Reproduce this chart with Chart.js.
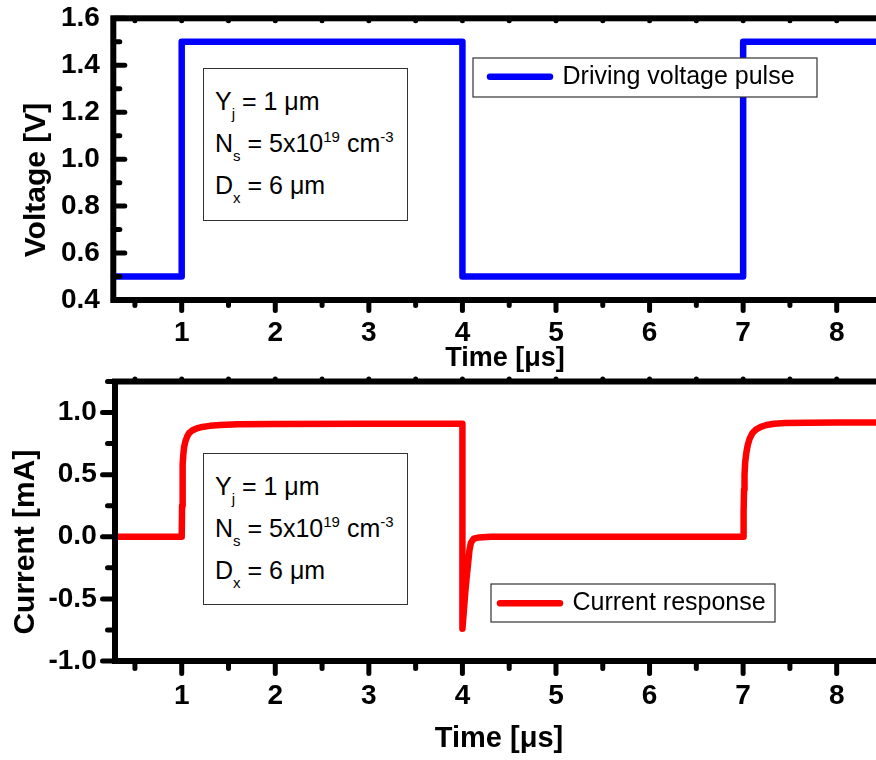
<!DOCTYPE html>
<html>
<head>
<meta charset="utf-8">
<script src="https://cdn.jsdelivr.net/npm/chart.js@4.4.1/dist/chart.umd.min.js"></script>
<style>
html, body { margin:0; padding:0; background:#fff; overflow:hidden; }
#wrap { position:relative; width:876px; height:760px; overflow:hidden; background:#fff; }
canvas { position:absolute; left:0; }
#cTop { top:0; }
#cBot { top:370px; }
.note { position:absolute; left:203px; width:205px; box-sizing:border-box; border:1px solid #333; background:#fff;
  padding:11px 0 0 11px; font-family:"Liberation Sans", Arial, sans-serif; font-size:25px; line-height:42px;
  color:#000; white-space:nowrap; z-index:2; }
.note sub, .note sup { font-size:15px; line-height:0; position:relative; vertical-align:baseline; }
.note sub { top:9px; }
.note sup { top:-10px; }
</style>
</head>
<body>
<div id="wrap">
  <canvas id="cTop" width="900" height="380"></canvas>
  <canvas id="cBot" width="900" height="390"></canvas>
  <div class="note" style="top:68px;height:153px">
    <div>Y<sub>j</sub> = 1 μm</div>
    <div>N<sub>s</sub> = 5x10<sup>19</sup> cm<sup>-3</sup></div>
    <div>D<sub>x</sub> = 6 μm</div>
  </div>
  <div class="note" style="top:453px;height:152px">
    <div>Y<sub>j</sub> = 1 μm</div>
    <div>N<sub>s</sub> = 5x10<sup>19</sup> cm<sup>-3</sup></div>
    <div>D<sub>x</sub> = 6 μm</div>
  </div>
</div>
<script>
const FONT = '"Liberation Sans", Arial, Helvetica, sans-serif';

// ---- tick values ----
const timeTicks = [1, 2, 3, 4, 5, 6, 7, 8];
const timeMinorTicks = [0.5, 1.5, 2.5, 3.5, 4.5, 5.5, 6.5, 7.5, 8.5];
const voltTicks = [0.4, 0.6, 0.8, 1.0, 1.2, 1.4, 1.6];
const voltMinorTicks = [0.5, 0.7, 0.9, 1.1, 1.3, 1.5];
const currTicks = [-1.0, -0.5, 0.0, 0.5, 1.0];
const currMinorTicks = [-0.75, -0.25, 0.25, 0.75, 1.25];

// ---- series: driving voltage pulse ----
const voltTime  = [0.2, 1.0, 1.0, 4.0, 4.0, 7.0, 7.0, 8.7];
const voltValue = [0.5, 0.5, 1.5, 1.5, 0.5, 0.5, 1.5, 1.5];

// ---- series: current response ----
const currTime = [0.2, 1.0, 1.004, 1.008, 1.012, 1.017, 1.025, 1.04, 1.06, 1.08, 1.11, 1.16, 1.22, 1.3, 1.41, 1.6, 2.0, 3.0,
  4.0, 4.0, 4.015, 4.03, 4.045, 4.06, 4.075, 4.09, 4.12, 4.18, 4.3, 5.0, 6.0,
  7.0, 7.005, 7.01, 7.015, 7.022, 7.035, 7.05, 7.07, 7.1, 7.14, 7.19, 7.25, 7.33, 7.45, 7.7, 8.0, 8.7];
const currValue = [0, 0, 0.25, 0.45, 0.58, 0.66, 0.72, 0.77, 0.81, 0.835, 0.855, 0.872, 0.884, 0.893, 0.9, 0.905, 0.908, 0.91,
  0.91, -0.74, -0.60, -0.45, -0.33, -0.22, -0.11, -0.05, -0.015, -0.005, 0, 0, 0,
  0, 0.2, 0.38, 0.5, 0.6, 0.68, 0.74, 0.79, 0.835, 0.865, 0.885, 0.9, 0.91, 0.915, 0.918, 0.92, 0.92];

const toPoints = (xs, ys) => xs.map((x, i) => ({ x: x, y: ys[i] }));

// frame + tick marks (drawn through the chart's scales)
const framePlugin = {
  id: 'frameTicks',
  afterDatasetsDraw(chart, args, o) {
    const { ctx, chartArea: a } = chart;
    const xs = chart.scales.x, ys = chart.scales.y;
    ctx.save();
    ctx.strokeStyle = '#000';
    ctx.lineWidth = 6;
    ctx.strokeRect(a.left, a.top, a.right - a.left, a.bottom - a.top);
    ctx.lineWidth = 5;
    ctx.lineCap = 'round';
    const r = 2.5;
    const seg = (x1, y1, x2, y2) => { ctx.beginPath(); ctx.moveTo(x1, y1); ctx.lineTo(x2, y2); ctx.stroke(); };
    o.yMajor.forEach(v => { const p = ys.getPixelForValue(v); seg(a.left, p, a.left + o.leftDir * (o.leftMajor - r), p); });
    o.yMinor.forEach(v => { const p = ys.getPixelForValue(v); seg(a.left, p, a.left + o.leftDir * (o.leftMinor - r), p); });
    o.xMajor.forEach(v => {
      const p = xs.getPixelForValue(v); if (p > a.right) return;
      seg(p, a.bottom, p, a.bottom + o.bottomDir * (o.bottomMajor - r));
      seg(p, a.top, p, a.top + o.topDir * (o.topLen - r));
    });
    o.xMinor.forEach(v => {
      const p = xs.getPixelForValue(v); if (p > a.right) return;
      seg(p, a.bottom, p, a.bottom + o.bottomDir * (o.bottomMinor - r));
      seg(p, a.top, p, a.top + o.topDir * (o.topLen - r));
    });
    ctx.restore();
  }
};

// legend placed inside a framed white box
const legendBoxPlugin = {
  id: 'legendBox',
  afterUpdate(chart, args, o) {
    const lg = chart.legend; if (!lg) return;
    lg.left = o.itemX - o.pad; lg.top = o.itemY - o.pad;
    lg.right = o.x + o.w; lg.bottom = o.y + o.h + 6;
    lg.width = lg.right - lg.left; lg.height = lg.bottom - lg.top;
  },
  afterDatasetsDraw(chart, args, o) {
    const ctx = chart.ctx;
    ctx.save();
    ctx.fillStyle = '#fff';
    ctx.fillRect(o.x, o.y, o.w, o.h);
    ctx.strokeStyle = '#333';
    ctx.lineWidth = 1.2;
    ctx.strokeRect(o.x, o.y, o.w, o.h);
    ctx.restore();
    chart.legend.draw();
  }
};

function makeLegend() {
  return {
    display: true, position: 'chartArea', align: 'start',
    labels: {
      usePointStyle: true, pointStyle: 'line', pointStyleWidth: 60, boxHeight: 25, padding: 10,
      font: { family: FONT, size: 25 }, color: '#000',
      generateLabels: (chart) => chart.data.datasets.map((ds, i) => ({
        text: ds.label, strokeStyle: ds.borderColor, fillStyle: ds.borderColor,
        lineWidth: ds.borderWidth, lineCap: 'round', pointStyle: 'line',
        hidden: false, datasetIndex: i, fontColor: '#000'
      }))
    }
  };
}

function makeChart(canvasId, cfg) {
  return new Chart(document.getElementById(canvasId), {
    type: 'line',
    data: {
      datasets: [{
        label: cfg.label,
        data: cfg.data,
        borderColor: cfg.color,
        backgroundColor: cfg.color,
        borderWidth: 6.5,
        borderJoinStyle: 'round',
        borderCapStyle: 'round',
        pointRadius: 0,
        fill: false,
        tension: 0
      }]
    },
    options: {
      responsive: false, animation: false, devicePixelRatio: 1, events: [],
      layout: { autoPadding: false, padding: cfg.padding },
      scales: {
        x: {
          type: 'linear', min: cfg.xMin, max: cfg.xMax,
          afterBuildTicks: s => { s.ticks = timeTicks.map(v => ({ value: v })); },
          afterFit: s => { s.height = cfg.xHeight; s.paddingLeft = 0; s.paddingRight = 0; s.paddingTop = 0; s.paddingBottom = 0; },
          grid: { display: false, drawTicks: false },
          border: { display: false },
          ticks: { padding: cfg.xTickPad, maxRotation: 0, minRotation: 0, autoSkip: false, color: '#000',
            font: { family: FONT, size: 28, weight: 'bold', lineHeight: 1 }, callback: v => String(v) },
          title: { display: true, text: 'Time [μs]', color: '#000',
            font: { family: FONT, size: cfg.xTitleSize, weight: 'bold', lineHeight: 1 },
            padding: { top: 0, bottom: cfg.xTitlePad } }
        },
        y: {
          type: 'linear', min: cfg.yMin, max: cfg.yMax,
          afterBuildTicks: s => { s.ticks = cfg.yTicks.map(v => ({ value: v })); },
          afterFit: s => { s.width = cfg.yWidth; s.paddingTop = 0; s.paddingBottom = 0; s.paddingLeft = 0; s.paddingRight = 0; },
          grid: { display: false, drawTicks: false },
          border: { display: false },
          ticks: { padding: cfg.yTickPad, color: '#000', autoSkip: false,
            font: { family: FONT, size: 28, weight: 'bold', lineHeight: 1 }, callback: v => v.toFixed(1) },
          title: { display: true, text: cfg.yTitle + '     ', color: '#000',
            font: { family: FONT, size: 30, weight: 'bold', lineHeight: 1 },
            padding: { top: cfg.yTitlePad, bottom: 0 } }
        }
      },
      plugins: {
        tooltip: { enabled: false },
        legend: makeLegend(),
        frameTicks: cfg.ticks,
        legendBox: cfg.legendBox
      }
    },
    plugins: [framePlugin, legendBoxPlugin]
  });
}

// top panel: voltage
makeChart('cTop', {
  label: 'Driving voltage pulse', color: '#0000ff',
  data: toPoints(voltTime, voltValue),
  padding: { left: 0, top: 18.3, right: 3.3, bottom: 0 },
  xMin: 0.269, xMax: 8.641, xHeight: 80, xTickPad: 19.5, xTitleSize: 27, xTitlePad: 8,
  yMin: 0.4, yMax: 1.6, yTicks: voltTicks, yWidth: 113.3, yTickPad: 13.5,
  yTitle: 'Voltage [V]', yTitlePad: 22,
  ticks: { yMajor: voltTicks, yMinor: voltMinorTicks, xMajor: timeTicks, xMinor: timeMinorTicks,
    leftDir: 1, leftMajor: 14, leftMinor: 9, bottomDir: 1, bottomMajor: 13, bottomMinor: 8, topDir: 1, topLen: 5 },
  legendBox: { x: 473, y: 58, w: 344, h: 39, itemX: 490, itemY: 64.2, pad: 10 }
});

// bottom panel: current
makeChart('cBot', {
  label: 'Current response', color: '#ff0000',
  data: toPoints(currTime, currValue),
  padding: { left: 0, top: 11.5, right: 17, bottom: 0 },
  xMin: 0.287, xMax: 8.495, xHeight: 99, xTickPad: 21, xTitleSize: 29, xTitlePad: 6.5,
  yMin: -1.0, yMax: 1.25, yTicks: currTicks, yWidth: 115, yTickPad: 18.3,
  yTitle: 'Current [mA]', yTitlePad: 10.5,
  ticks: { yMajor: currTicks, yMinor: currMinorTicks, xMajor: timeTicks, xMinor: timeMinorTicks,
    leftDir: -1, leftMajor: 15, leftMinor: 10, bottomDir: 1, bottomMajor: 15, bottomMinor: 10, topDir: -1, topLen: 5 },
  legendBox: { x: 491, y: 214, w: 284, h: 38, itemX: 500, itemY: 220.8, pad: 10 }
});
</script>
</body>
</html>
